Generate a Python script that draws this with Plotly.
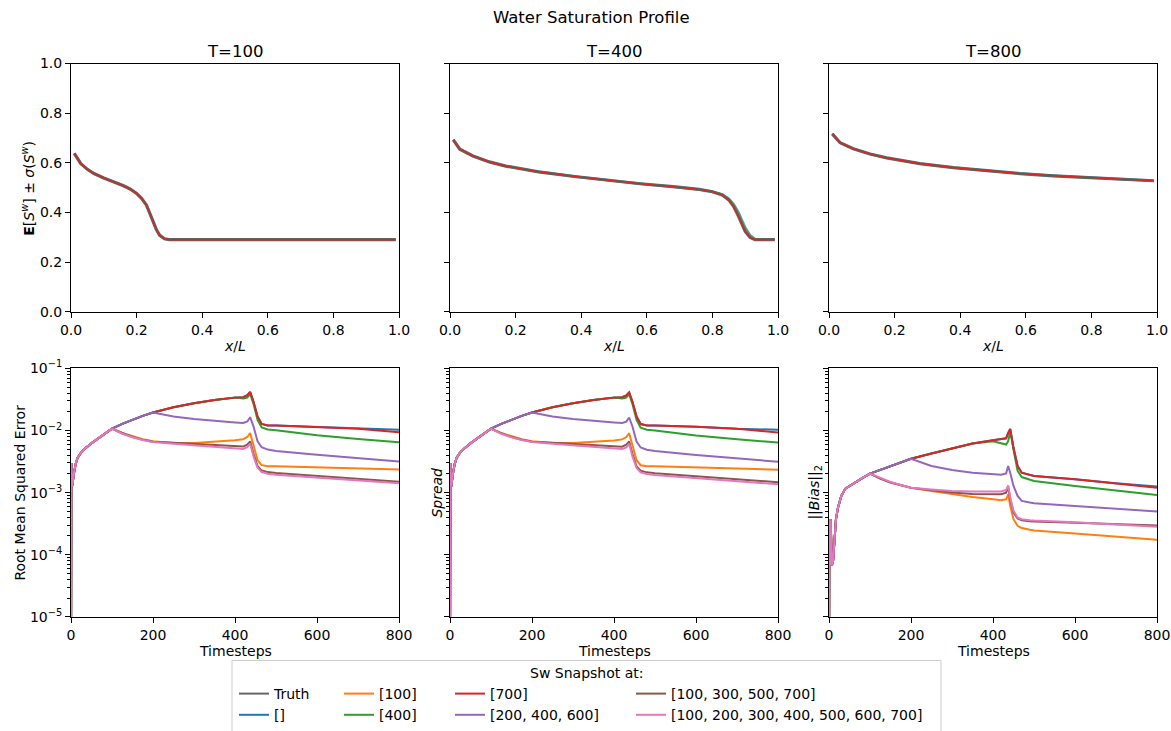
import plotly.graph_objects as go

W, H = 1171, 731
FONT = "DejaVu Sans"

# ---------------- top row: saturation profiles ----------------
X_T100 = [0.01, 0.02, 0.03, 0.05, 0.07, 0.10, 0.13, 0.16, 0.18, 0.20, 0.215, 0.23, 0.24,
          0.25, 0.26, 0.27, 0.285, 0.30, 0.50, 0.70, 0.99]
S_T100 = [0.638, 0.618, 0.597, 0.574, 0.557, 0.539, 0.524, 0.508, 0.495, 0.477, 0.457, 0.430, 0.398,
          0.365, 0.332, 0.309, 0.294, 0.291, 0.291, 0.291, 0.291]

X_T400 = [0.01, 0.03, 0.07, 0.12, 0.17, 0.27, 0.38, 0.48, 0.58, 0.68, 0.76, 0.80, 0.83, 0.85,
          0.865, 0.88, 0.89, 0.90, 0.915, 0.93, 0.99]
S_T400 = [0.693, 0.655, 0.628, 0.604, 0.587, 0.564, 0.545, 0.529, 0.516, 0.504, 0.493, 0.484, 0.471, 0.451,
          0.424, 0.384, 0.351, 0.324, 0.300, 0.291, 0.291]
S_T400_ALT = [0.693, 0.655, 0.628, 0.604, 0.587, 0.564, 0.545, 0.529, 0.516, 0.504, 0.493, 0.484, 0.473, 0.456,
              0.434, 0.400, 0.370, 0.340, 0.309, 0.293, 0.291]

X_T800 = [0.01, 0.034, 0.074, 0.125, 0.176, 0.277, 0.379, 0.481, 0.582, 0.684, 0.786, 0.887, 0.99]
S_T800 = [0.717, 0.681, 0.657, 0.636, 0.620, 0.597, 0.581, 0.568, 0.557, 0.548, 0.541, 0.535, 0.528]

# ---------------- bottom row: error metrics vs timestep ----------------
T_STEPS = [0, 1, 3, 5, 8, 12, 16, 24, 37, 53, 69, 85, 100, 125, 150, 175, 200, 250, 300, 350, 400,
           420, 430, 437, 445, 455, 465, 480, 500, 600, 700, 800]

RMSE_START = [1e-6, 3.0e-3, 1.28e-3, 1.74e-3, 2.22e-3, 3.0e-3, 3.63e-3, 4.37e-3, 5.31e-3, 6.46e-3,
              7.59e-3, 9.12e-3, 1.07e-2]
RMSE_EMPTY = RMSE_START + [1.28e-2, 1.49e-2, 1.72e-2, 1.95e-2, 2.38e-2, 2.75e-2, 3.11e-2, 3.39e-2,
                           3.45e-2, 3.70e-2, 4.18e-2, 2.93e-2, 1.69e-2, 1.28e-2, 1.21e-2, 1.21e-2,
                           1.15e-2, 1.07e-2, 1.03e-2]
RMSE_100 = RMSE_START + [9.12e-3, 8.07e-3, 7.23e-3, 6.71e-3, 6.31e-3, 6.31e-3, 6.55e-3, 6.97e-3,
                         7.23e-3, 7.87e-3, 9.12e-3, 5.58e-3, 3.34e-3, 2.77e-3, 2.67e-3, 2.67e-3,
                         2.58e-3, 2.48e-3, 2.36e-3]
RMSE_400 = RMSE_START + [1.28e-2, 1.49e-2, 1.72e-2, 1.95e-2, 2.38e-2, 2.75e-2, 3.11e-2, 3.39e-2,
                         3.27e-2, 3.39e-2, 3.88e-2, 2.69e-2, 1.49e-2, 1.12e-2, 1.04e-2, 1.01e-2,
                         8.38e-3, 7.31e-3, 6.47e-3]
RMSE_700 = RMSE_START + [1.28e-2, 1.49e-2, 1.72e-2, 1.95e-2, 2.38e-2, 2.75e-2, 3.11e-2, 3.39e-2,
                         3.45e-2, 3.70e-2, 4.18e-2, 2.93e-2, 1.69e-2, 1.28e-2, 1.21e-2, 1.21e-2,
                         1.15e-2, 1.07e-2, 9.36e-3]
RMSE_246 = RMSE_START + [1.28e-2, 1.49e-2, 1.72e-2, 1.95e-2, 1.69e-2, 1.53e-2, 1.42e-2, 1.35e-2,
                         1.32e-2, 1.40e-2, 1.64e-2, 1.17e-2, 6.71e-3, 5.38e-3, 4.93e-3, 4.70e-3,
                         4.06e-3, 3.59e-3, 3.17e-3]
RMSE_1357 = RMSE_START + [9.12e-3, 7.87e-3, 7.13e-3, 6.62e-3, 6.38e-3, 6.08e-3, 5.86e-3, 5.58e-3,
                          5.51e-3, 5.93e-3, 6.71e-3, 4.26e-3, 2.67e-3, 2.28e-3, 2.14e-3, 2.07e-3,
                          1.85e-3, 1.67e-3, 1.50e-3]
RMSE_ALL = RMSE_START + [8.89e-3, 7.78e-3, 7.05e-3, 6.55e-3, 6.15e-3, 5.79e-3, 5.45e-3, 5.19e-3,
                         5.06e-3, 5.38e-3, 6.15e-3, 3.86e-3, 2.51e-3, 2.14e-3, 2.01e-3, 1.94e-3,
                         1.74e-3, 1.57e-3, 1.41e-3]

SPREAD_START = [1e-6, 3.0e-3, 1.25e-3, 1.72e-3, 2.20e-3, 2.98e-3, 3.62e-3, 4.36e-3, 5.30e-3, 6.45e-3,
                7.58e-3, 9.10e-3, 1.07e-2]
SPREAD_EMPTY = SPREAD_START + [1.28e-2, 1.49e-2, 1.72e-2, 1.95e-2, 2.38e-2, 2.75e-2, 3.11e-2, 3.39e-2,
                               3.45e-2, 3.68e-2, 4.12e-2, 2.90e-2, 1.68e-2, 1.27e-2, 1.21e-2, 1.20e-2,
                               1.15e-2, 1.07e-2, 1.03e-2]
SPREAD_100 = SPREAD_START + [9.10e-3, 8.05e-3, 7.22e-3, 6.70e-3, 6.30e-3, 6.30e-3, 6.52e-3, 6.93e-3,
                             7.20e-3, 7.85e-3, 9.05e-3, 5.55e-3, 3.33e-3, 2.76e-3, 2.66e-3, 2.65e-3,
                             2.56e-3, 2.46e-3, 2.34e-3]
SPREAD_400 = SPREAD_START + [1.28e-2, 1.49e-2, 1.72e-2, 1.95e-2, 2.38e-2, 2.75e-2, 3.11e-2, 3.39e-2,
                             3.27e-2, 3.38e-2, 3.85e-2, 2.67e-2, 1.48e-2, 1.11e-2, 1.03e-2, 1.00e-2,
                             8.30e-3, 7.25e-3, 6.40e-3]
SPREAD_700 = SPREAD_START + [1.28e-2, 1.49e-2, 1.72e-2, 1.95e-2, 2.38e-2, 2.75e-2, 3.11e-2, 3.39e-2,
                             3.45e-2, 3.68e-2, 4.12e-2, 2.90e-2, 1.68e-2, 1.27e-2, 1.21e-2, 1.20e-2,
                             1.15e-2, 1.07e-2, 9.30e-3]
SPREAD_246 = SPREAD_START + [1.28e-2, 1.49e-2, 1.72e-2, 1.95e-2, 1.69e-2, 1.53e-2, 1.42e-2, 1.35e-2,
                             1.32e-2, 1.39e-2, 1.62e-2, 1.16e-2, 6.65e-3, 5.33e-3, 4.90e-3, 4.67e-3,
                             4.03e-3, 3.56e-3, 3.14e-3]
SPREAD_1357 = SPREAD_START + [9.10e-3, 7.85e-3, 7.12e-3, 6.60e-3, 6.36e-3, 6.05e-3, 5.83e-3, 5.55e-3,
                              5.48e-3, 5.90e-3, 6.65e-3, 4.22e-3, 2.65e-3, 2.26e-3, 2.12e-3, 2.05e-3,
                              1.83e-3, 1.65e-3, 1.47e-3]
SPREAD_ALL = SPREAD_START + [8.87e-3, 7.76e-3, 7.03e-3, 6.52e-3, 6.12e-3, 5.76e-3, 5.42e-3, 5.16e-3,
                             5.03e-3, 5.35e-3, 6.10e-3, 3.83e-3, 2.49e-3, 2.12e-3, 1.99e-3, 1.92e-3,
                             1.72e-3, 1.55e-3, 1.36e-3]

T_BIAS = [0, 1, 2, 4, 7, 10, 13, 17, 22, 30, 40, 50, 60, 80, 100, 125, 150, 175, 200, 250, 300, 350,
          400, 420, 432, 437, 442, 450, 460, 470, 490, 500, 600, 700, 800]
BIAS_START = [1e-6, 3.73e-4, 6.67e-5, 3.73e-4, 6.67e-5, 8.0e-5, 1.78e-4, 3.73e-4, 5.74e-4, 8.85e-4,
              1.16e-3, 1.28e-3, 1.41e-3, 1.70e-3, 2.02e-3]
BIAS_EMPTY = BIAS_START + [2.31e-3, 2.68e-3, 3.10e-3, 3.51e-3, 4.27e-3, 5.21e-3, 6.18e-3, 7.00e-3,
                           7.35e-3, 7.50e-3, 9.18e-3, 1.06e-2, 5.27e-3, 2.68e-3, 2.09e-3, 1.92e-3,
                           1.85e-3, 1.64e-3, 1.41e-3, 1.25e-3]
BIAS_100 = BIAS_START + [1.68e-3, 1.45e-3, 1.31e-3, 1.20e-3, 1.06e-3, 9.40e-4, 8.51e-4, 7.81e-4,
                         7.53e-4, 7.81e-4, 9.40e-4, 6.11e-4, 3.73e-4, 2.92e-4, 2.68e-4, 2.52e-4,
                         2.46e-4, 2.20e-4, 1.97e-4, 1.74e-4]
BIAS_400 = BIAS_START + [2.31e-3, 2.68e-3, 3.10e-3, 3.51e-3, 4.27e-3, 5.21e-3, 6.18e-3, 6.74e-3,
                         6.34e-3, 5.96e-3, 6.74e-3, 9.76e-3, 4.95e-3, 2.23e-3, 1.78e-3, 1.60e-3,
                         1.54e-3, 1.28e-3, 1.09e-3, 9.18e-4]
BIAS_700 = BIAS_START + [2.31e-3, 2.68e-3, 3.10e-3, 3.51e-3, 4.27e-3, 5.21e-3, 6.18e-3, 7.00e-3,
                         7.35e-3, 7.50e-3, 9.18e-3, 1.06e-2, 5.27e-3, 2.68e-3, 2.09e-3, 1.92e-3,
                         1.85e-3, 1.64e-3, 1.41e-3, 1.20e-3]
BIAS_246 = BIAS_START + [2.31e-3, 2.68e-3, 3.10e-3, 3.51e-3, 2.68e-3, 2.31e-3, 2.09e-3, 1.97e-3,
                         1.94e-3, 2.04e-3, 2.68e-3, 2.09e-3, 1.28e-3, 8.85e-4, 7.35e-4, 6.92e-4,
                         6.75e-4, 6.11e-4, 5.54e-4, 4.96e-4]
BIAS_1357 = BIAS_START + [1.68e-3, 1.45e-3, 1.31e-3, 1.20e-3, 1.09e-3, 1.00e-3, 9.52e-4, 9.29e-4,
                          9.40e-4, 1.00e-3, 1.25e-3, 7.81e-4, 4.78e-4, 3.83e-4, 3.60e-4, 3.47e-4,
                          3.42e-4, 3.26e-4, 3.10e-4, 2.96e-4]
BIAS_ALL = BIAS_START + [1.72e-3, 1.48e-3, 1.33e-3, 1.20e-3, 1.12e-3, 1.06e-3, 1.04e-3, 1.04e-3,
                         1.04e-3, 1.10e-3, 1.31e-3, 8.32e-4, 5.08e-4, 3.97e-4, 3.73e-4, 3.60e-4,
                         3.56e-4, 3.34e-4, 3.07e-4, 2.81e-4]

SERIES_NAMES = ["[]", "[100]", "[400]", "[700]", "[200, 400, 600]", "[100, 300, 500, 700]",
                "[100, 200, 300, 400, 500, 600, 700]"]
SERIES_COLORS = ["#1f77b4", "#ff7f0e", "#2ca02c", "#d62728", "#9467bd", "#8c564b", "#e377c2"]
SERIES_LEGEND = ["legend", "legend2", "legend2", "legend3", "legend3", "legend4", "legend4"]
TRUTH_COLOR = "#666666"

RMSE = [RMSE_EMPTY, RMSE_100, RMSE_400, RMSE_700, RMSE_246, RMSE_1357, RMSE_ALL]
SPREAD = [SPREAD_EMPTY, SPREAD_100, SPREAD_400, SPREAD_700, SPREAD_246, SPREAD_1357, SPREAD_ALL]
BIAS = [BIAS_EMPTY, BIAS_100, BIAS_400, BIAS_700, BIAS_246, BIAS_1357, BIAS_ALL]

fig = go.Figure()

# ---- top row ----
profiles = [(X_T100, S_T100, S_T100, "x", "y"),
            (X_T400, S_T400, S_T400_ALT, "x2", "y2"),
            (X_T800, S_T800, S_T800, "x3", "y3")]
for xs, s, s_alt, xa, ya in profiles:
    fig.add_trace(go.Scatter(x=xs, y=s, mode="lines", line=dict(color=TRUTH_COLOR, width=3.2),
                             xaxis=xa, yaxis=ya, showlegend=False, hoverinfo="skip"))
    fig.add_trace(go.Scatter(x=xs, y=s_alt, mode="lines", line=dict(color="#1f77b4", width=2.4),
                             opacity=0.6, xaxis=xa, yaxis=ya, showlegend=False, hoverinfo="skip"))
    fig.add_trace(go.Scatter(x=xs, y=s_alt, mode="lines", line=dict(color="#2ca02c", width=2.0),
                             opacity=0.5, xaxis=xa, yaxis=ya, showlegend=False, hoverinfo="skip"))
    fig.add_trace(go.Scatter(x=xs, y=s, mode="lines", line=dict(color="#d62728", width=1.6),
                             xaxis=xa, yaxis=ya, showlegend=False, hoverinfo="skip"))

# legend entry for Truth
fig.add_trace(go.Scatter(x=[None], y=[None], mode="lines", name="Truth",
                         line=dict(color=TRUTH_COLOR, width=2), xaxis="x4", yaxis="y4",
                         legend="legend", showlegend=True))

# ---- bottom row ----
panels = [(T_STEPS, RMSE, "x4", "y4", True),
          (T_STEPS, SPREAD, "x5", "y5", False),
          (T_BIAS, BIAS, "x6", "y6", False)]
for ts, data, xa, ya, show in panels:
    for name, col, leg, vals in zip(SERIES_NAMES, SERIES_COLORS, SERIES_LEGEND, data):
        fig.add_trace(go.Scatter(x=ts, y=vals, mode="lines", name=name,
                                 line=dict(color=col, width=2), xaxis=xa, yaxis=ya,
                                 legend=leg, showlegend=show))

# ---- axes ----
def px_x(p):
    return p / W

def px_y(p):
    return 1 - p / H

XDOM = [(px_x(71), px_x(399)), (px_x(450), px_x(778)), (px_x(829), px_x(1157))]
YTOP = (px_y(314), px_y(64))
YBOT = (px_y(621), px_y(371))

base = dict(showline=True, linecolor="black", linewidth=1, mirror=True, ticks="outside",
            ticklen=5, tickwidth=1, tickcolor="black", showgrid=False, zeroline=False,
            tickfont=dict(size=14, color="black", family=FONT), automargin=False)

lin_vals = [0, 0.2, 0.4, 0.6, 0.8, 1.0]
lin_text = ["0.0", "0.2", "0.4", "0.6", "0.8", "1.0"]
log_vals = [1e-5, 1e-4, 1e-3, 1e-2, 1e-1]
log_text = ["10<sup>−5</sup>", "10<sup>−4</sup>", "10<sup>−3</sup>", "10<sup>−2</sup>", "10<sup>−1</sup>"]
minor_vals = [m * d for d in [1e-5, 1e-4, 1e-3, 1e-2] for m in range(2, 10)]
t_vals = [0, 200, 400, 600, 800]

layout = {}
for i in range(3):
    k = "" if i == 0 else str(i + 1)
    layout["xaxis" + k] = dict(base, domain=XDOM[i], range=[0, 1], tickvals=lin_vals, ticktext=lin_text,
                               anchor="y" + k)
    layout["yaxis" + k] = dict(base, domain=YTOP, range=[0, 1], tickvals=lin_vals, ticktext=lin_text,
                               showticklabels=(i == 0), anchor="x" + k)
    kb = str(i + 4)
    layout["xaxis" + kb] = dict(base, domain=XDOM[i], range=[0, 800], tickvals=t_vals,
                                anchor="y" + kb)
    layout["yaxis" + kb] = dict(base, domain=YBOT, type="log", range=[-5, -1], tickvals=log_vals,
                                ticktext=log_text, showticklabels=(i == 0), anchor="x" + kb,
                                minor=dict(tickvals=minor_vals, ticks="outside", ticklen=3,
                                           tickwidth=0.8, tickcolor="black", showgrid=False))

annotations = []
def ann(text, x, y, size=14, angle=0, **kw):
    annotations.append(dict(text=text, x=px_x(x), y=px_y(y), xref="paper", yref="paper",
                            showarrow=False, textangle=angle, xanchor="center", yanchor="middle",
                            font=dict(size=size, color="black", family=FONT), **kw))

ann("Water Saturation Profile", 591, 18, size=16.5)
for cx, t in zip([235, 614, 993], ["T=100", "T=400", "T=800"]):
    ann(t, cx, 52, size=16.5)
    ann("<i>x</i>/<i>L</i>", cx, 348)
    ann("Timesteps", cx, 655)
ann("<b>E</b>[<i>S<sup>w</sup></i>] ± <i>σ</i>(<i>S<sup>w</sup></i>)", 28, 189, angle=-90)
ann("Root Mean Squared Error", 20, 496, angle=-90)
ann("<i>Spread</i>", 437, 496, angle=-90)
ann("||<i>Bias</i>||<sub>2</sub>", 815, 496, angle=-90)
ann("Sw Snapshot at:", 586, 678)

shapes = [dict(type="rect", xref="paper", yref="paper", x0=px_x(232), x1=px_x(941),
               y0=px_y(745), y1=px_y(665), line=dict(color="#cccccc", width=1),
               fillcolor="rgba(255,255,255,0.8)", layer="below")]

leg_base = dict(orientation="v", xanchor="left", yanchor="top", bgcolor="rgba(0,0,0,0)",
                borderwidth=0, font=dict(size=14, color="black", family=FONT), tracegroupgap=0,
                itemclick=False, itemdoubleclick=False)
ly = px_y(683)
layout["legend"] = dict(leg_base, x=px_x(234), y=ly)
layout["legend2"] = dict(leg_base, x=px_x(339), y=ly)
layout["legend3"] = dict(leg_base, x=px_x(450), y=ly)
layout["legend4"] = dict(leg_base, x=px_x(631), y=ly)

fig.update_layout(width=W, height=H, margin=dict(l=0, r=0, t=0, b=0),
                  paper_bgcolor="white", plot_bgcolor="white",
                  font=dict(family=FONT, size=14, color="black"),
                  annotations=annotations, shapes=shapes, **layout)

fig.write_html("out.html")
